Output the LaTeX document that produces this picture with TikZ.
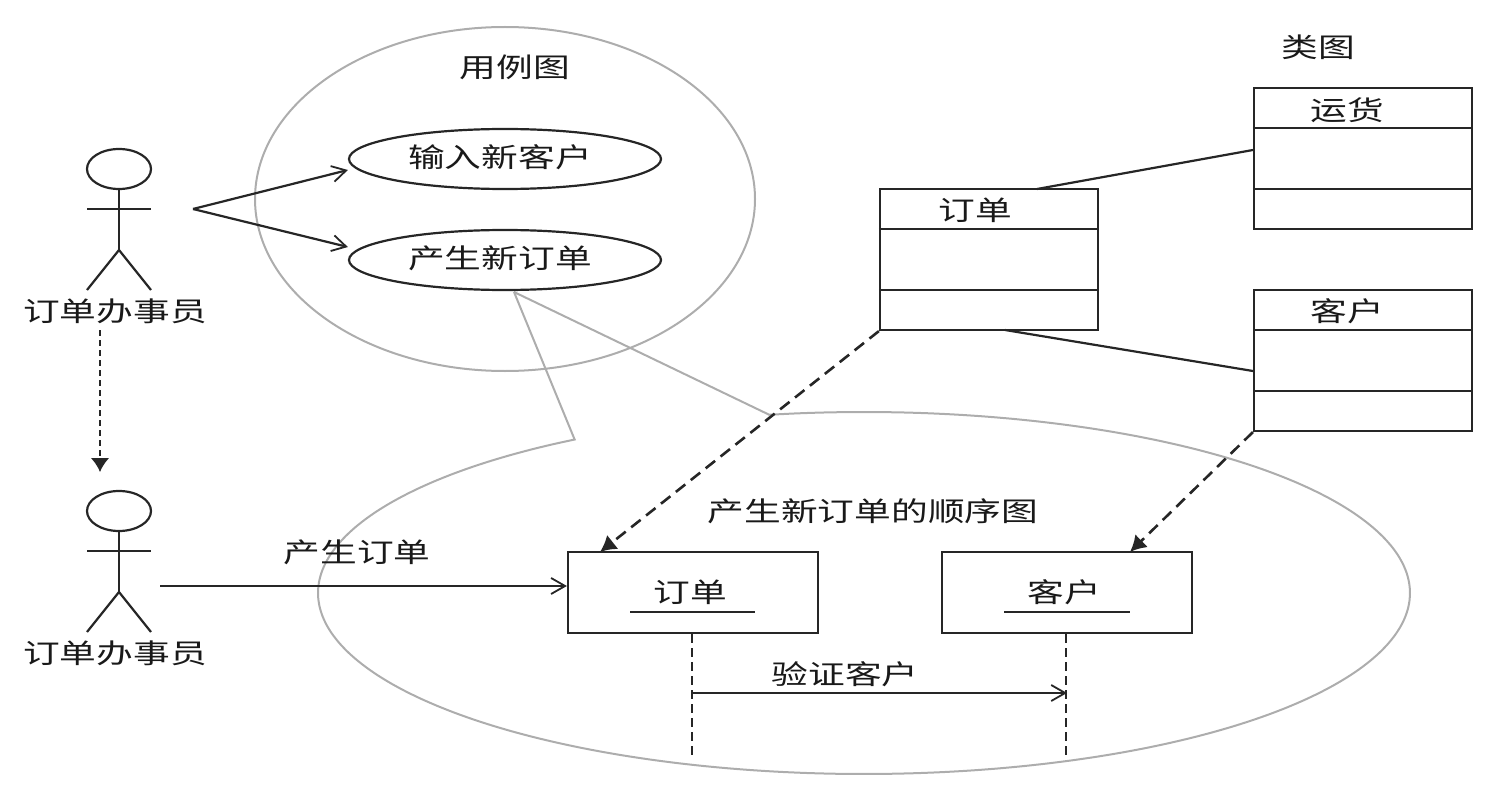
\documentclass[tikz,border=0pt]{standalone}
\usepackage{fontspec}
\setmainfont[FakeStretch=1.36]{Noto Sans CJK SC}
\usetikzlibrary{arrows.meta,shapes.geometric}
\tikzset{
  ink/.style={draw=black!85,line width=1.1pt},
  bubble/.style={draw=black!32,line width=1pt},
  lbl/.style={inner sep=0pt,text=black!90,font=\fontsize{13.5}{14}\selectfont},
  usecase/.style={ellipse,ink,minimum width=156pt,minimum height=30pt,inner sep=0pt},
  classbox/.style={rectangle,ink,minimum width=109pt,minimum height=70.5pt,inner sep=0pt},
  objbox/.style={rectangle,ink,minimum width=125pt,minimum height=40.5pt,inner sep=0pt},
  openarrow/.style={ink,-{Straight Barb[length=7pt,width=8pt,line width=.9pt]}},
  dasharrow/.style={ink,line width=1.3pt,dash pattern=on 6pt off 3.5pt,-{Latex[length=8pt,width=9pt]}},
  dotarrow/.style={ink,line width=1.4pt,dash pattern=on 3pt off 2pt,-{Latex[length=7pt,width=9.5pt]}},
  lifeline/.style={ink,line width=1.2pt,dash pattern=on 4.5pt off 2.5pt},
  thin/.style={draw=black!85,line width=.9pt}
}
\newcommand{\actor}[4]{% name, x, y (head centre), label
  \node[ellipse,ink,minimum width=32pt,minimum height=20pt,inner sep=0pt] (#1head) at (#2,#3) {};
  \coordinate (#1hip) at (#2,#3+81);
  \coordinate (#1la) at (#2-32,#3+40);
  \coordinate (#1ra) at (#2+32,#3+40);
  \coordinate (#1lf) at (#2-32,#3+121);
  \coordinate (#1rf) at (#2+32,#3+121);
  \draw[ink] (#1head.south) -- (#1hip);
  \draw[ink] (#1la) -- (#1ra);
  \draw[ink] (#1lf) -- (#1hip) -- (#1rf);
  \node[lbl] (#1label) at (#2-4,#3+142) {#4};
}
\begin{document}
\begin{tikzpicture}[x=0.5pt,y=-0.5pt]
\useasboundingbox (0,0) rectangle (1500,797);
% bubbles
\node[ellipse,bubble,minimum width=250pt,minimum height=172pt,inner sep=0pt] (topbubble) at (505,199) {};
\coordinate (tip) at (514,292);
\coordinate (bl) at (574,438);
\coordinate (br) at (770,415);
\draw[bubble] (tip) -- (bl) -- plot[domain=598:260,samples=120,smooth] ({864+546*cos(\x)},{593+181*sin(\x)}) -- (tip);
% actors
\actor{a}{119}{169}{订单办事员}
\actor{b}{119}{511}{订单办事员}
\coordinate (adash) at (100,330);
\coordinate (bdash) at (100,472);
\draw[dotarrow] (adash) -- (bdash);
% use cases
\node[usecase] (uc1) at (505,159) {};
\node[usecase] (uc2) at (505,260) {};
\node[lbl] (uc1t) at (500,157) {输入新客户};
\node[lbl] (uc2t) at (500,258) {产生新订单};
\coordinate (fork) at (193,209);
\draw[openarrow] (fork) -- (uc1.west |- 0,170);
\draw[openarrow] (fork) -- (uc2.west |- 0,247);
\node[lbl] (t1) at (515,67) {用例图};
\node[lbl] (t2) at (1318,47) {类图};
\node[lbl] (t3) at (873,511) {产生新订单的顺序图};
% classes
\node[classbox] (order) at (989,259.5) {};
\node[classbox] (ship) at (1363,158.5) {};
\node[classbox] (cust) at (1363,360.5) {};
\draw[ink] (order.west |- 0,229) -- (order.east |- 0,229);
\draw[ink] (order.west |- 0,290) -- (order.east |- 0,290);
\draw[ink] (ship.west |- 0,128) -- (ship.east |- 0,128);
\draw[ink] (ship.west |- 0,189) -- (ship.east |- 0,189);
\draw[ink] (cust.west |- 0,330) -- (cust.east |- 0,330);
\draw[ink] (cust.west |- 0,391) -- (cust.east |- 0,391);
\node[lbl] (ordert) at (975,210) {订单};
\node[lbl] (shipt) at (1347,110) {运货};
\node[lbl] (custt) at (1347,311) {客户};
\draw[ink] (1037,189) -- (ship.west |- 0,150);
\draw[ink] (1005,330) -- (cust.west |- 0,371);
% objects
\node[objbox] (oo) at (693,592.5) {};
\node[objbox] (oc) at (1067,592.5) {};
\node[lbl] (oot) at (690,592) {订单};
\node[lbl] (oct) at (1064,592) {客户};
\draw[thin] (630,612) -- (755,612);
\draw[thin] (1004,612) -- (1130,612);
\draw[dasharrow] (order.south west) -- (600,552);
\draw[dasharrow] (cust.south west) -- (1130,552);
% lifelines
\coordinate (oe) at (692,755);
\coordinate (ce) at (1066,755);
\draw[lifeline] (oo.south -| oe) -- (oe);
\draw[lifeline] (oc.south -| ce) -- (ce);
\draw[openarrow,line width=.9pt] (692,693) -- (1067,693);
\node[lbl] (msg) at (845,674) {验证客户};
\coordinate (bhand) at (160,586);
\draw[openarrow,line width=.9pt] (bhand) -- (oo.west |- 0,586);
\node[lbl] (msg2) at (357,552) {产生订单};
\end{tikzpicture}
\end{document}
